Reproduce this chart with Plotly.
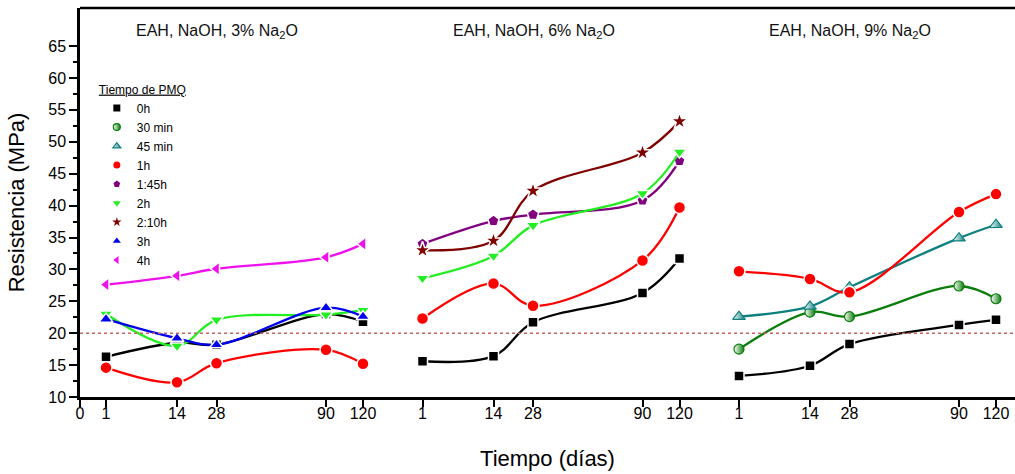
import plotly.graph_objects as go

# ---------------- data ----------------
days = ["1", "14", "28", "90", "120"]
panels = ["EAH, NaOH, 3% Na<sub>2</sub>O", "EAH, NaOH, 6% Na<sub>2</sub>O", "EAH, NaOH, 9% Na<sub>2</sub>O"]
series_names = ["0h", "30 min", "45 min", "1h", "1:45h", "2h", "2:10h", "3h", "4h"]

# values per panel (3%, 6%, 9%); None = series absent in that panel
v_0h = [[16.3, 18.5, 18.2, 23.0, 21.8], [15.6, 16.4, 21.7, 26.3, 31.7], [13.3, 14.9, 18.3, 21.3, 22.1]]
v_30min = [None, None, [17.5, 23.3, 22.6, 27.4, 25.4]]
v_45min = [None, None, [22.6, 24.2, 27.2, 34.9, 37.0]]
v_1h = [[14.6, 12.3, 15.3, 17.4, 15.2], [22.3, 27.8, 24.3, 31.4, 39.7], [29.7, 28.5, 26.4, 39.0, 41.8]]
v_145h = [None, [34.0, 37.6, 38.6, 40.8, 47.0], None]
v_2h = [[23.0, 18.0, 22.1, 22.9, 23.6], [28.6, 32.1, 36.9, 41.9, 48.4], None]
v_210h = [None, [33.0, 34.5, 42.3, 48.3, 53.2], None]
v_3h = [[22.2, 19.2, 18.2, 24.0, 22.6], None, None]
v_4h = [[27.6, 29.0, 30.1, 31.9, 34.0], None, None]
reference_level = 20
y_ticks = [10, 15, 20, 25, 30, 35, 40, 45, 50, 55, 60, 65]

# ---------------- layout constants (positions / styles) ----------------
DAY_POS = [26, 97, 136.5, 246, 283]
PANEL_SHIFT = 316.5
FONT = "Liberation Sans Narrow, Arial Narrow, Liberation Sans, Arial, sans-serif"
FONT_REG = "Liberation Sans, Arial, sans-serif"

styles = {
    "0h": dict(color="#000000", symbol="square", size=10),
    "30 min": dict(color="#0a7d0a", symbol="circle", size=10, half=True),
    "45 min": dict(color="#0f8080", symbol="triangle-up", size=11, half=True),
    "1h": dict(color="#ff0000", symbol="circle", size=12),
    "1:45h": dict(color="#800080", symbol="pentagon", size=12),
    "2h": dict(color="#22ee22", symbol="triangle-down", size=12),
    "2:10h": dict(color="#800000", symbol="star", size=13),
    "3h": dict(color="#0000ee", symbol="triangle-up", size=12),
    "4h": dict(color="#ee11ee", symbol="triangle-left", size=12),
}
values = {
    "0h": v_0h, "30 min": v_30min, "45 min": v_45min, "1h": v_1h, "1:45h": v_145h,
    "2h": v_2h, "2:10h": v_210h, "3h": v_3h, "4h": v_4h,
}


def make_marker(st, size):
    if st.get("half"):
        return dict(symbol=st["symbol"], size=size, color="white",
                    gradient=dict(type="horizontal", color=st["color"]),
                    line=dict(color=st["color"], width=1.2))
    return dict(symbol=st["symbol"], size=size, color=st["color"],
                line=dict(color="white", width=1.5 if size > 8 else 0))


fig = go.Figure()

for name in series_names:
    st = styles[name]
    xs, ys = [], []
    for p, vals in enumerate(values[name]):
        if vals is None:
            continue
        if xs:
            xs.append(None); ys.append(None)
        xs += [p * PANEL_SHIFT + d for d in DAY_POS]
        ys += vals
    fig.add_trace(go.Scatter(
        x=xs, y=ys, mode="lines", showlegend=False, connectgaps=False,
        line=dict(color=st["color"], width=2.3, shape="spline", smoothing=1.0),
        hoverinfo="skip"))
    fig.add_trace(go.Scatter(x=xs, y=ys, mode="markers", name=name, showlegend=False,
                             marker=make_marker(st, st["size"])))
    # legend entry with small symbol
    fig.add_trace(go.Scatter(x=[None], y=[None], mode="markers", name=name,
                             marker=make_marker(st, 7)))

tickvals = [0] + [p * PANEL_SHIFT + d for p in range(3) for d in DAY_POS]
ticktext = ["0"] + days * 3

fig.add_hline(y=reference_level, line=dict(color="#c86464", width=1.6, dash="dot"))

for p, t in enumerate(panels):
    fig.add_annotation(x=p * PANEL_SHIFT + 137, y=0.968, xref="x", yref="paper",
                       text=t, showarrow=False, font=dict(family=FONT, size=16, color="#111"))

# top frame line
fig.add_shape(type="line", xref="paper", yref="paper", x0=0, x1=1, y0=1, y1=1,
              line=dict(color="black", width=2.5))

minor_vals = [v + 2.5 for v in y_ticks[:-1]]

fig.update_layout(
    width=1015, height=474,
    margin=dict(l=80, r=0, t=8, b=77),
    plot_bgcolor="white", paper_bgcolor="white",
    font=dict(family=FONT, color="black"),
    xaxis=dict(range=[0, 935], tickmode="array", tickvals=tickvals, ticktext=ticktext,
               showgrid=False, zeroline=False, showline=True, linecolor="black", linewidth=2.5,
               ticks="outside", ticklen=7, tickwidth=2, tickcolor="black",
               ticklabelstandoff=-7,
               tickfont=dict(family=FONT, size=16),
               title=dict(text="Tiempo (días)", font=dict(family=FONT, size=22), standoff=30)),
    yaxis=dict(range=[10, 70.97], tickmode="array", tickvals=y_ticks,
               showgrid=False, zeroline=False, showline=True, linecolor="black", linewidth=2.5,
               ticks="outside", ticklen=8, tickwidth=2, tickcolor="black",
               minor=dict(ticks="outside", ticklen=4, tickwidth=1.5, tickvals=minor_vals,
                          tickcolor="black"),
               tickfont=dict(family=FONT_REG, size=16),
               title=dict(text="Resistencia (MPa)", font=dict(family=FONT_REG, size=22), standoff=18)),
    legend=dict(x=0.018, y=0.82, xanchor="left", yanchor="top",
                bgcolor="rgba(0,0,0,0)", borderwidth=0,
                font=dict(family=FONT_REG, size=12),
                title=dict(text="<u>Tiempo de PMQ</u>", font=dict(family=FONT_REG, size=12)),
                itemwidth=30, tracegroupgap=0),
)

fig.write_html("out.html", post_script="document.body.style.margin='0';",
               config={"displayModeBar": False})
